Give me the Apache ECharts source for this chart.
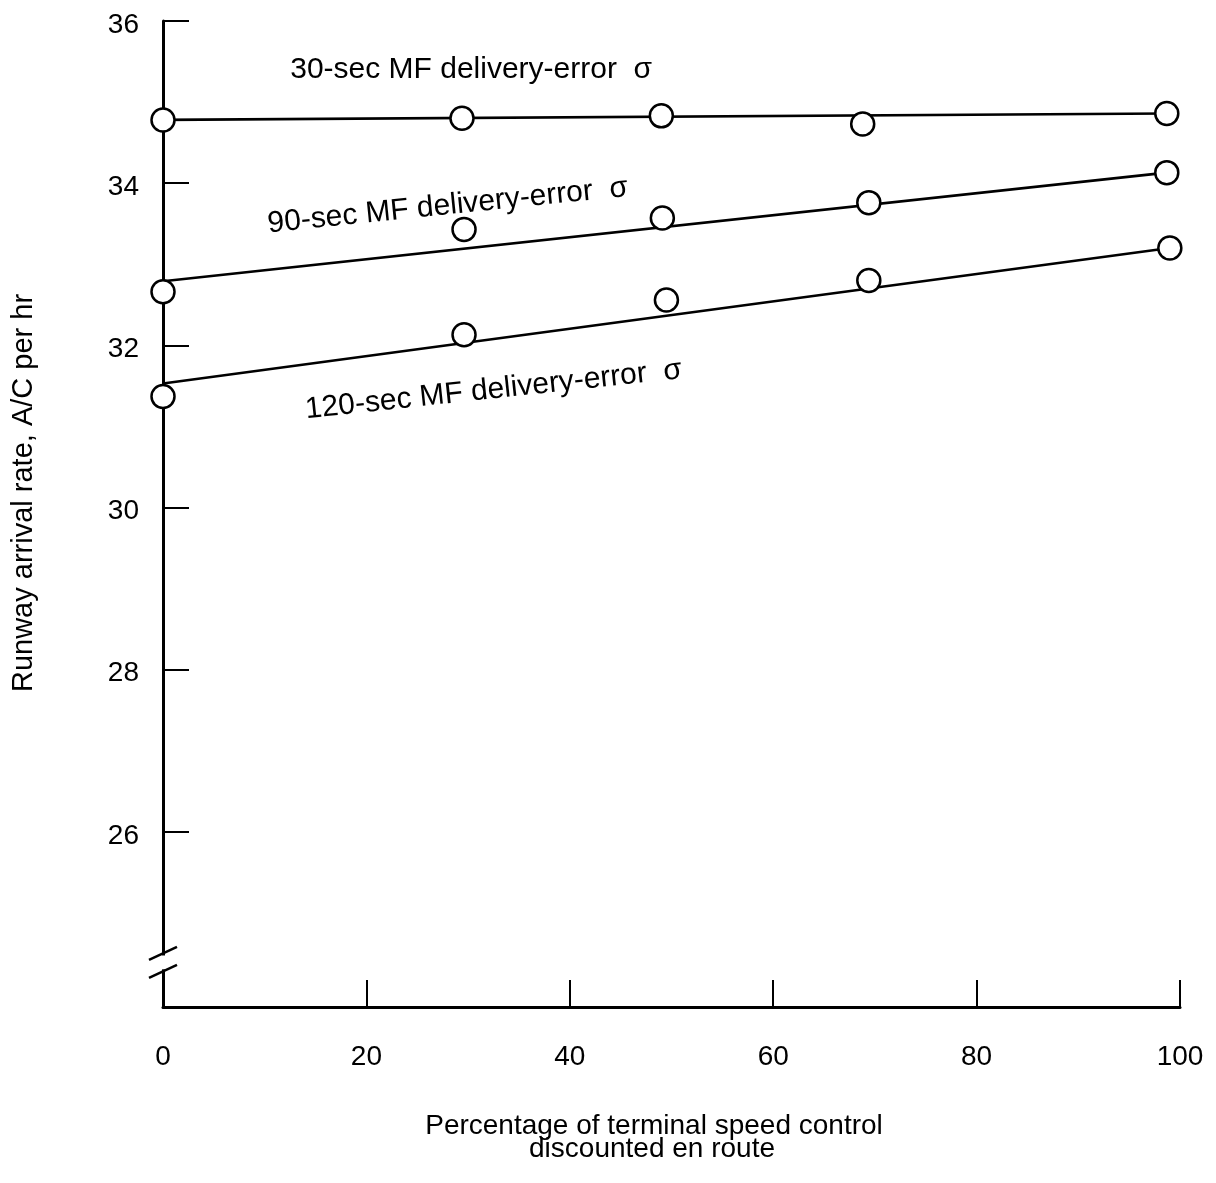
<!DOCTYPE html>
<html>
<head>
<meta charset="utf-8">
<script src="https://cdn.jsdelivr.net/npm/echarts@6/dist/echarts.min.js"></script>
<style>
  html, body { margin: 0; padding: 0; background: #fff; }
  #chart { width: 1216px; height: 1183px; }
</style>
</head>
<body>
<div id="chart"></div>
<script>
// Axis ticks
const xTicks = [0, 20, 40, 60, 80, 100];
const yTicks = [26, 28, 30, 32, 34, 36];

// Measured runway arrival rates (A/C per hr) vs. % of terminal speed control discounted en route
const x30 = [0, 29.4, 49.0, 68.8, 98.7];
const y30 = [34.78, 34.80, 34.83, 34.73, 34.86];
const x90 = [0, 29.6, 49.1, 69.4, 98.7];
const y90 = [32.66, 33.43, 33.57, 33.76, 34.13];
const x120 = [0, 29.6, 49.5, 69.4, 99.0];
const y120 = [31.37, 32.13, 32.56, 32.80, 33.20];

// Straight-line fits: value at each end of the fitted segment
const fitX30 = [0, 98.7];
const fit30 = [34.78, 34.86];
const fitX90 = [0, 98.7];
const fit90 = [32.79, 34.13];
const fitX120 = [0, 99.0];
const fit120 = [31.53, 33.20];

const curveNames = [
  '30-sec MF delivery-error  \u03c3',
  '90-sec MF delivery-error  \u03c3',
  '120-sec MF delivery-error  \u03c3'
];

const FONT = '"Liberation Sans", Arial, Helvetica, sans-serif';
const INK = '#000';

const pair = (xs, ys) => xs.map((x, i) => [x, ys[i]]);

const chart = echarts.init(document.getElementById('chart'), null, { renderer: 'canvas' });

const fitSeries = (name, xs, ys) => ({
  name, type: 'line', data: pair(xs, ys), symbol: 'none', z: 2,
  lineStyle: { color: INK, width: 2.6 }, silent: true
});
const pointSeries = (name, xs, ys) => ({
  name, type: 'scatter', data: pair(xs, ys), symbol: 'circle', symbolSize: 23, z: 3,
  itemStyle: { color: '#fff', borderColor: INK, borderWidth: 2.5, opacity: 1 }, silent: true
});

chart.setOption({
  animation: false,
  backgroundColor: '#fff',
  grid: { left: 163, right: 36, top: 21, bottom: 176, containLabel: false, outerBoundsMode: 'none' },
  xAxis: {
    type: 'value', min: 0, max: 100, interval: 20,
    axisLine: { show: true, lineStyle: { color: INK, width: 3 } },
    axisTick: { show: true, inside: true, length: 27, lineStyle: { color: INK, width: 2 } },
    axisLabel: { margin: 36, fontSize: 28, color: INK, fontFamily: FONT, customValues: xTicks },
    splitLine: { show: false }
  },
  yAxis: {
    type: 'value', min: 23.84, max: 36,
    axisLine: { show: true, lineStyle: { color: INK, width: 3 } },
    axisTick: { show: true, inside: true, length: 26, customValues: yTicks, lineStyle: { color: INK, width: 2 } },
    // labels sit slightly below their ticks
    axisLabel: { margin: 24, fontSize: 28, color: INK, fontFamily: FONT, customValues: yTicks,
                 verticalAlign: 'top', lineHeight: 8 },
    splitLine: { show: false }
  },
  series: [
    fitSeries(curveNames[0], fitX30, fit30),
    fitSeries(curveNames[1], fitX90, fit90),
    fitSeries(curveNames[2], fitX120, fit120),
    pointSeries(curveNames[0], x30, y30),
    pointSeries(curveNames[1], x90, y90),
    pointSeries(curveNames[2], x120, y120)
  ]
});

// Annotations placed in data coordinates: [x, y, rotation in degrees]
const curveLabelAnchors = [
  [30.3, 35.40, 0],
  [28.0, 33.72, 5.8],
  [32.5, 31.45, 6.1]
];
// Axis-break marks on the y axis (values where the two slashes sit)
const breakVals = [24.50, 24.28];

const toPx = (x, y) => chart.convertToPixel({ gridIndex: 0 }, [x, y]);
const textStyle = (text, extra) => Object.assign({
  text, x: 0, y: 0, fill: INK, fontSize: 28, fontFamily: FONT,
  align: 'center', verticalAlign: 'middle'
}, extra || {});

const graphics = [];

curveLabelAnchors.forEach((a, i) => {
  const p = toPx(a[0], a[1]);
  graphics.push({
    type: 'text', x: p[0], y: p[1], rotation: a[2] * Math.PI / 180, z: 10,
    style: textStyle(curveNames[i], { fontSize: 30 })
  });
});

// break in the y axis: gap plus two slashes
const b1 = toPx(0, breakVals[0]);
const b2 = toPx(0, breakVals[1]);
graphics.push({
  type: 'rect', z: 20,
  shape: { x: b1[0] - 5, y: b1[1] + 2, width: 10, height: (b2[1] - b1[1]) - 4 },
  style: { fill: '#fff' }
});
[b1, b2].forEach(b => {
  graphics.push({
    type: 'line', z: 21,
    shape: { x1: b[0] - 14, y1: b[1] + 6.5, x2: b[0] + 14, y2: b[1] - 6.5 },
    style: { stroke: INK, lineWidth: 2.5 }
  });
});

// Axis titles
graphics.push({
  type: 'text', x: 24, y: 493, rotation: Math.PI / 2, z: 10,
  style: textStyle('Runway arrival rate, A/C per hr', { fontSize: 29 })
});
graphics.push({
  type: 'text', x: 654, y: 1126, z: 10,
  style: textStyle('Percentage of terminal speed control')
});
graphics.push({
  type: 'text', x: 652, y: 1149, z: 10,
  style: textStyle('discounted en route')
});

chart.setOption({ graphic: { elements: graphics } });
</script>
</body>
</html>
